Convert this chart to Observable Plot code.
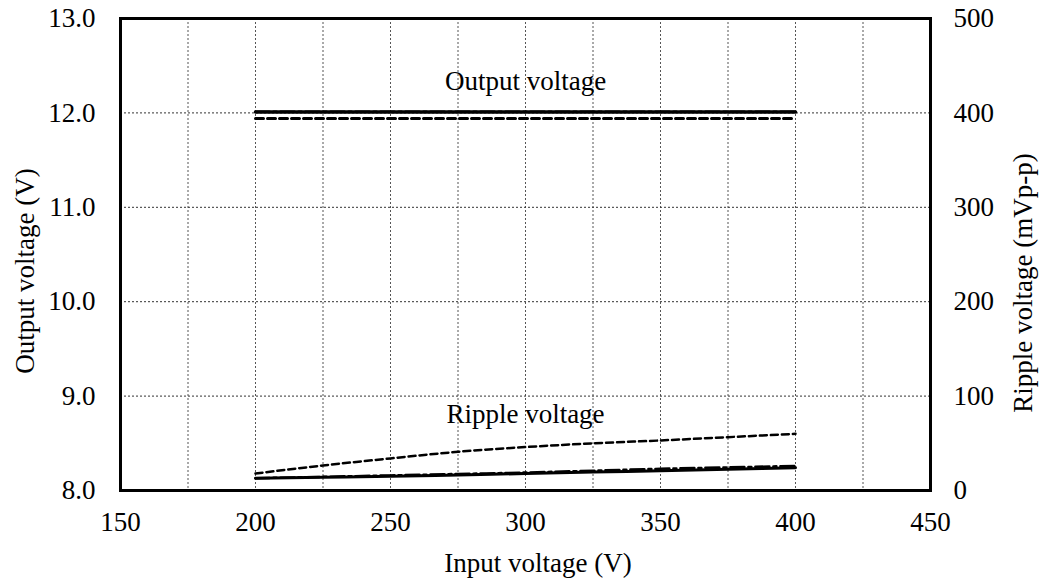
<!DOCTYPE html>
<html>
<head>
<meta charset="utf-8">
<script src="https://cdn.jsdelivr.net/npm/d3@7"></script>
<script src="https://cdn.jsdelivr.net/npm/@observablehq/plot@0.6"></script>
<style>
  html, body { margin: 0; padding: 0; background: white; }
  #chart svg { display: block; }
</style>
</head>
<body>
<div id="chart"></div>
<script>
// Input voltage (V)
const inputV = [200, 225, 250, 275, 300, 325, 350, 375, 400];
// Output voltage (V), three conditions
const outSolid   = [12.01, 12.01, 12.01, 12.01, 12.01, 12.01, 12.01, 12.01, 12.01];
const outDashed  = [11.94, 11.94, 11.94, 11.94, 11.94, 11.94, 11.94, 11.94, 11.94];
const outDashDot = [12.012, 12.012, 12.012, 12.012, 12.012, 12.012, 12.012, 12.012, 12.012];
// Ripple voltage (mVp-p), three conditions
const ripSolid   = [13, 14, 15, 16.5, 18, 19.5, 21, 22.5, 24];
const ripDashed  = [18, 26.5, 34, 41, 46, 50, 53, 56.5, 60];
const ripDashDot = [13, 14.5, 16, 17.5, 19, 21, 23, 24.5, 26];

const xTicks = [150, 200, 250, 300, 350, 400, 450];
const yTicks = [8, 9, 10, 11, 12, 13];
const xGrid = [175, 200, 225, 250, 275, 300, 325, 350, 375, 400, 425];
const yGrid = [9, 10, 11, 12];

// map ripple (mV) onto the left voltage scale: 0..500 mV -> 8..13 V
const toLeft = mv => 8 + mv / 100;
const mk = (vals, f) => inputV.map((x, i) => ({x, y: f ? f(vals[i]) : vals[i]}));

const font = "Liberation Serif";
const fs = 27;

const chart = Plot.plot({
  width: 1044,
  height: 583,
  marginLeft: 120,
  marginRight: 114,
  marginTop: 18,
  marginBottom: 93,
  style: {fontFamily: font, fontSize: fs + "px", color: "black", background: "white"},
  x: {domain: [150, 450]},
  y: {domain: [8, 13]},
  marks: [
    Plot.gridX(xGrid, {stroke: "#555", strokeOpacity: 1, strokeWidth: 1, strokeDasharray: "2,2"}),
    Plot.gridY(yGrid, {stroke: "#333", strokeOpacity: 1, strokeWidth: 1, strokeDasharray: "2,2"}),
    // output voltage
    Plot.line(mk(outDashDot), {x: "x", y: "y", stroke: "black", strokeWidth: 2.5, strokeDasharray: "14,4,3,4"}),
    Plot.line(mk(outSolid), {x: "x", y: "y", stroke: "black", strokeWidth: 3.5}),
    Plot.line(mk(outDashed), {x: "x", y: "y", stroke: "black", strokeWidth: 3, strokeDasharray: "8,4"}),
    // ripple voltage
    Plot.line(mk(ripSolid, toLeft), {x: "x", y: "y", stroke: "black", strokeWidth: 3, curve: "monotone-x"}),
    Plot.line(mk(ripDashDot, toLeft), {x: "x", y: "y", stroke: "black", strokeWidth: 2.5, strokeDasharray: "14,4,3,4", curve: "monotone-x"}),
    Plot.line(mk(ripDashed, toLeft), {x: "x", y: "y", stroke: "black", strokeWidth: 2.5, strokeDasharray: "7,4", curve: "monotone-x"}),
    // annotations
    Plot.text(["Output voltage"], {x: 300, y: 12.24, text: d => d, lineAnchor: "bottom", fontSize: fs, fontFamily: font, fill: "black"}),
    Plot.text(["Ripple voltage"], {x: 300, y: 8.71, text: d => d, lineAnchor: "bottom", fontSize: fs, fontFamily: font, fill: "black"}),
    Plot.frame({stroke: "black", strokeWidth: 3}),
    Plot.axisX(xTicks, {tickSize: 0, tickPadding: 21, tickFormat: d => String(d), label: null, fontSize: fs, fontFamily: font}),
    Plot.axisY(yTicks, {anchor: "left", tickSize: 0, tickPadding: 25, tickFormat: d => d.toFixed(1), label: null, fontSize: fs, fontFamily: font}),
    Plot.axisY(yTicks, {anchor: "right", tickSize: 0, tickPadding: 23, tickFormat: d => String(Math.round((d - 8) * 100)), label: null, fontSize: fs, fontFamily: font})
  ]
});

document.getElementById("chart").appendChild(chart);

// axis titles
const svg = d3.select(chart);
svg.append("text")
  .attr("transform", "translate(34,271) rotate(-90)")
  .attr("text-anchor", "middle")
  .attr("font-family", font).attr("font-size", fs).attr("fill", "black")
  .text("Output voltage (V)");
svg.append("text")
  .attr("transform", "translate(1032,283) rotate(-90)")
  .attr("text-anchor", "middle")
  .attr("font-family", font).attr("font-size", fs).attr("fill", "black")
  .text("Ripple voltage (mVp-p)");
svg.append("text")
  .attr("x", 538).attr("y", 572)
  .attr("text-anchor", "middle")
  .attr("font-family", font).attr("font-size", fs).attr("fill", "black")
  .text("Input voltage (V)");
</script>
</body>
</html>
